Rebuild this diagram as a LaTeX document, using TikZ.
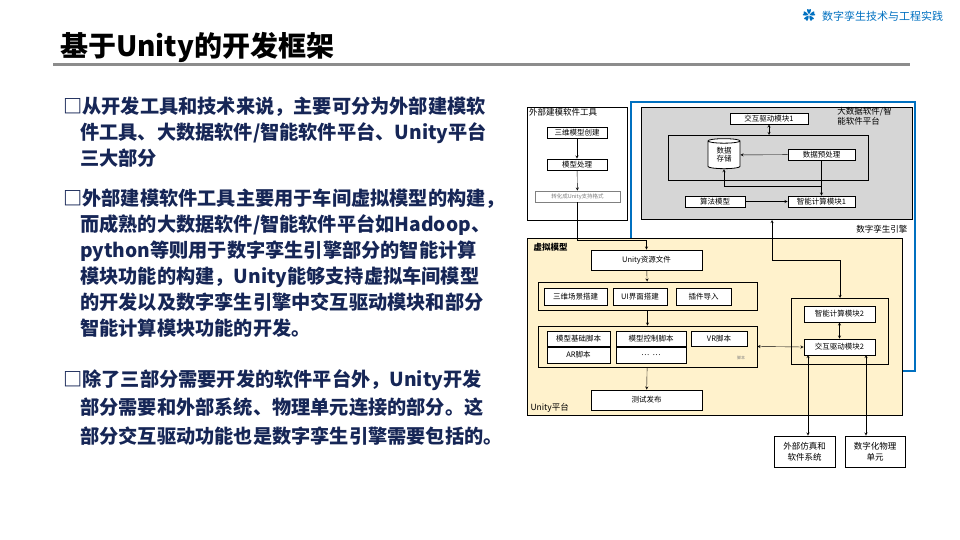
\documentclass[tikz,border=0pt]{standalone}
\usepackage{fontspec}
\setmainfont{Noto Sans CJK SC}
\usetikzlibrary{shapes.geometric,arrows}
\definecolor{navy}{RGB}{22,38,86}
\definecolor{engblue}{RGB}{0,112,192}
\definecolor{beige}{RGB}{255,242,204}
\begin{document}
\begin{tikzpicture}[x=1pt,y=-1pt, >=stealth,
    box/.style={draw, thick, fill=white, inner sep=0pt, font=\fontsize{7.5}{8}\selectfont},
    frame/.style={draw, thick},
    line/.style={text=navy, font=\bfseries\fontsize{19.2}{22}\selectfont, anchor=base west, inner sep=0pt}]
    \useasboundingbox (0,0) rectangle (960,540);
    % header
    \node[anchor=base west, font=\bfseries\fontsize{28}{32}\selectfont, inner sep=0pt] (title) at (60,57) {基于Unity的开发框架};
    \fill[gray!90] (53,63) rectangle (910,66);
    \node[anchor=west, text=engblue, font=\fontsize{11}{12}\selectfont, inner sep=0pt] (logo) at (822,16) {数字孪生技术与工程实践};
    \node[text=engblue, font=\fontsize{13}{13}\selectfont, inner sep=0pt] (gear) at (809,16) {✿};
    % text
    \node[line] (t1) at (63,114) {□从开发工具和技术来说，主要可分为外部建模软};
    \node[line] (t2) at (80,140) {件工具、大数据软件/智能软件平台、Unity平台};
    \node[line] (t3) at (80,166) {三大部分};
    \node[line] (t4) at (63,205) {□外部建模软件工具主要用于车间虚拟模型的构建，};
    \node[line] (t5) at (80,231) {而成熟的大数据软件/智能软件平台如Hadoop、};
    \node[line] (t6) at (80,257) {python等则用于数字孪生引擎部分的智能计算};
    \node[line] (t7) at (80,283) {模块功能的构建，Unity能够支持虚拟车间模型};
    \node[line] (t8) at (80,309) {的开发以及数字孪生引擎中交互驱动模块和部分};
    \node[line] (t9) at (80,335) {智能计算模块功能的开发。};
    \node[line] (t10) at (63,386) {□除了三部分需要开发的软件平台外，Unity开发};
    \node[line] (t11) at (80,414) {部分需要和外部系统、物理单元连接的部分。这};
    \node[line] (t12) at (80,443) {部分交互驱动功能也是数字孪生引擎需要包括的。};
    % external modelling tools
    \draw[frame] (527,107) rectangle (627,220);
    \node[anchor=north west, font=\fontsize{8.5}{9}\selectfont, inner sep=1pt] (extlbl) at (528,107) {外部建模软件工具};
    \node[box, minimum width=60pt, minimum height=11pt] (create) at (577,132.5) {三维模型创建};
    \node[box, minimum width=60pt, minimum height=11pt] (proc) at (577,164.5) {模型处理};
    \node[box, draw=gray, text=gray, minimum width=85pt, minimum height=11pt, font=\fontsize{5.5}{6}\selectfont] (conv) at (577.5,196.5) {转化成Unity支持格式};
    % engine frame
    \draw[engblue, very thick] (631,102) rectangle (915,371);
    \node[anchor=east, font=\fontsize{8.5}{9}\selectfont] (englbl) at (911,229) {数字孪生引擎};
    \draw[frame, fill=black!16] (641,107) rectangle (912,219);
    \node[align=left, anchor=north east, font=\fontsize{8.5}{10}\selectfont, inner sep=1pt] (bdlbl) at (893,106) {大数据软件/智\\能软件平台};
    \node[box, minimum width=78pt, minimum height=11pt] (drive1) at (769,118.5) {交互驱动模块1};
    \draw[frame] (668,135) rectangle (868,180);
    \coordinate (inner) at (769,135);
    \node[box, cylinder, shape border rotate=90, aspect=0.3, minimum width=32pt, minimum height=30pt, align=center] (store) at (724,155) {数据\\存储};
    \node[box, minimum width=67pt, minimum height=11pt] (pre) at (821.5,154.5) {数据预处理};
    \node[box, minimum width=60pt, minimum height=11pt] (algo) at (715,201.5) {算法模型};
    \node[box, minimum width=67pt, minimum height=11pt] (calc1) at (821.5,201.5) {智能计算模块1};
    \coordinate (split) at (821.5,186);
    % unity platform
    \draw[frame, fill=beige] (527,238) rectangle (902,415);
    \node[anchor=north west, font=\bfseries\fontsize{8.5}{9}\selectfont] (vlbl) at (530,240) {虚拟模型};
    \node[anchor=south west, font=\fontsize{8.5}{9}\selectfont] (ulbl) at (527,416) {Unity平台};
    \node[box, minimum width=111pt, minimum height=20pt] (res) at (646.5,260) {Unity资源文件};
    \node[frame, minimum width=219pt, minimum height=28pt, inner sep=0pt] (row) at (647.5,296) {};
    \node[box, minimum width=63pt, minimum height=17pt] (scene) at (575.5,296.5) {三维场景搭建};
    \node[box, minimum width=54pt, minimum height=17pt] (ui) at (640,296.5) {UI界面搭建};
    \node[box, minimum width=55pt, minimum height=17pt] (plug) at (703.5,296.5) {插件导入};
    \node[frame, minimum width=219pt, minimum height=41pt, inner sep=0pt] (scripts) at (647.5,346.5) {};
    \node[box, minimum width=63pt, minimum height=15pt] (base) at (578.5,338.5) {模型基础脚本};
    \node[box, minimum width=63pt, minimum height=16pt] (ar) at (578.5,355) {AR脚本};
    \node[box, minimum width=70pt, minimum height=15pt] (ctrl) at (651,338.5) {模型控制脚本};
    \node[box, minimum width=70pt, minimum height=16pt] (dots) at (651,355) {…\ \ …};
    \node[box, minimum width=56pt, minimum height=15pt] (vr) at (719,338.5) {VR脚本};
    \node[font=\fontsize{4}{5}\selectfont, text=gray] (slbl) at (741,358) {脚本};
    \node[box, minimum width=111pt, minimum height=20pt] (test) at (646.5,400) {测试发布};
    \draw[frame] (791,298) rectangle (888,364);
    \coordinate (right) at (840,298);
    \node[box, minimum width=71pt, minimum height=16pt] (calc2) at (839.5,314) {智能计算模块2};
    \node[box, minimum width=71pt, minimum height=16pt] (drive2) at (839.5,347) {交互驱动模块2};
    % external systems
    \node[box, minimum width=61pt, minimum height=31pt, align=center, font=\fontsize{8.5}{11}\selectfont] (sim) at (804.5,451.5) {外部仿真和\\软件系统};
    \node[box, minimum width=60pt, minimum height=31pt, align=center, font=\fontsize{8.5}{11}\selectfont] (phys) at (875,451.5) {数字化物理\\单元};
    % connectors
    \draw[->] (create) -- (proc);
    \draw[->] (proc) -- (conv);
    \draw[->] (conv.south) |- (646.5,240) -- (res.north);
    \draw[->] (res) -- (row);
    \draw[->] (row) -- (scripts);
    \draw[->] (scripts) -- (test);
    \draw[<->] (scripts.east) -- (drive2.west);
    \draw[<->] (calc2) -- (drive2);
    \draw[->] (772,260) -- (772,220);
    \draw[->] (772,260) -| (right);
    \draw[<->] (808,355) -- (sim.north -| 808,0);
    \draw[<->] (866,355) -- (phys.north -| 866,0);
    \draw[<->] (drive1) -- (inner);
    \draw[->] (pre) -- (store);
    \draw[->] (pre) -- (calc1);
    \draw[->] (split) -| (store.south);
    \draw[->] (algo) -- (calc1);
\end{tikzpicture}
\end{document}
